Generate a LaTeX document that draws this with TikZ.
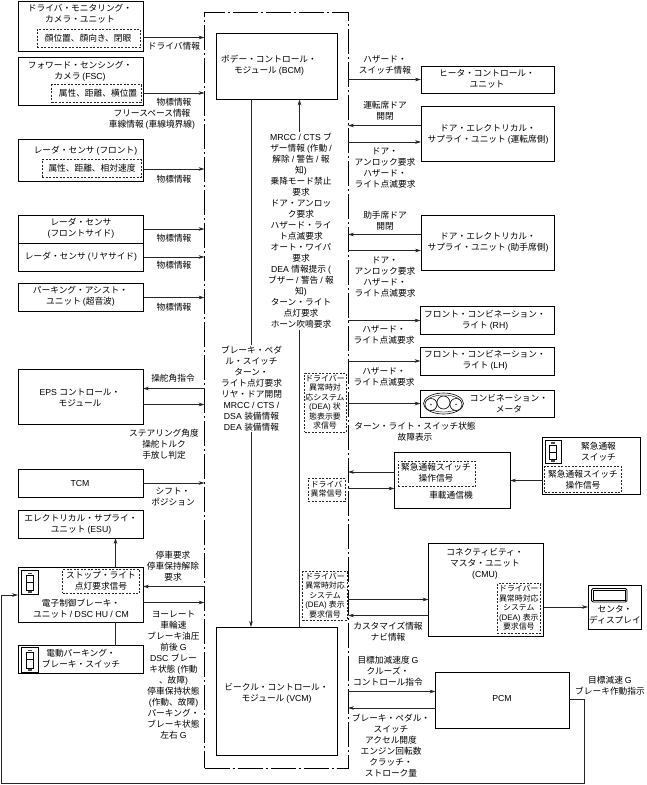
\documentclass[tikz,border=0pt]{standalone}
\usepackage{fontspec}
\usetikzlibrary{arrows.meta,calc}
\setmainfont{Liberation Sans}
\newfontfamily\cjkf{Noto Sans CJK JP}
\newfontfamily\latf{Liberation Sans}
% switch automatically between CJK and Latin glyphs
\newXeTeXintercharclass\mycjkclass
\newcount\mychr
\mychr="3000 \loop \XeTeXcharclass\mychr=\mycjkclass \advance\mychr 1 \ifnum\mychr<"3100 \repeat
\mychr="4E00 \loop \XeTeXcharclass\mychr=\mycjkclass \advance\mychr 1 \ifnum\mychr<"A000 \repeat
\XeTeXinterchartoks 0 \mycjkclass={\cjkf}
\XeTeXinterchartoks 4095 \mycjkclass={\cjkf}
\XeTeXinterchartoks \mycjkclass 0={\latf}
\XeTeXinterchartoks 4095 0={\latf}
\XeTeXinterchartokenstate=1
\newcount\tcnt
\tikzset{
  boxst/.style={draw=black,line width=0.9pt,fill=white,inner sep=0pt,outer sep=0pt},
  dashbox/.style={draw=black!85,line width=0.6pt,dash pattern=on 2pt off 1.5pt,fill=white,inner sep=0pt,outer sep=0pt},
  domainbox/.style={draw=black,line width=0.9pt,dash pattern=on 25pt off 3pt on 2pt off 3pt,inner sep=0pt,outer sep=0pt},
  flow/.style={draw=black!85,line width=0.65pt,-{Stealth[length=6pt,width=3.6pt]}},
  plain/.style={draw=black!85,line width=0.65pt},
  txt/.style={inner sep=0pt,outer sep=0pt,align=center,font=\fontsize{8.7}{11}\selectfont},
  small/.style={font=\fontsize{7.9}{9.5}\selectfont},
  knock/.style={fill=white,inner sep=1pt},
  icon/.style={draw=black,line width=0.6pt}
}
% \bx[style]{name}{x1}{y1}{x2}{y2}
\newcommand{\bx}[6][boxst]{%
  \pgfmathsetmacro\bxw{#5-#3}\pgfmathsetmacro\bxh{#6-#4}%
  \pgfmathsetmacro\bxc{(#3+#5)/2}\pgfmathsetmacro\bxd{(#4+#6)/2}%
  \node[#1,minimum width=\bxw pt,minimum height=\bxh pt] (#2) at (\bxc,\bxd) {};}
\newcommand{\tx}[4][]{%
  \global\advance\tcnt 1
  \node[txt,#1] (t\the\tcnt) at (#2,#3) {#4};}
% switch glyph
\newcommand{\swicon}[4]{%
  \draw[icon,line width=0.9pt] (#1,#2) rectangle (#3,#4);
  \draw[icon,line width=0.5pt] ($(#1,#2)+(4.5,5)$) rectangle ($(#3,#4)+(-4.5,-4)$);
  \draw[icon,line width=0.5pt] ($(#1,#2)+(4.5,12)$) -- ($(#3,#2)+(-4.5,12)$);
  \fill[black!70] ($(#1,#2)+(6,2)$) rectangle ($(#3,#2)+(-6,3.5)$);
  \fill[black!70] ($(#1,#4)+(6,-3)$) rectangle ($(#3,#4)+(-6,-1.5)$);}
\begin{document}
\begin{tikzpicture}[x=1pt,y=-1pt]
\useasboundingbox (0,0) rectangle (646,785);
\fill[white] (0,0) rectangle (646,785);
% domain frame
\bx[domainbox]{dom}{204.5}{12}{348}{768}
% boxes
\bx{bcm}{216}{33}{337}{99.5}
\bx{vcm}{216}{627}{337}{755}
\bx{drv}{18}{1.5}{143}{51}
\bx{fsc}{18}{57.5}{143}{105.5}
\bx{rfr}{18}{139}{143}{181}
\bx{rfs}{18.5}{215.5}{143.5}{243.5}
\bx{rrs}{18.5}{243.5}{143.5}{271}
\bx{pas}{18.5}{283.5}{143.5}{311.5}
\bx{eps}{18}{369}{143}{424.5}
\bx{tcm}{18}{469.5}{143}{497.5}
\bx{esu}{18}{510.5}{143}{538}
\bx{ebu}{18}{567}{143}{622}
\bx{epb}{18}{645.5}{143}{673.5}
\bx{htr}{421}{66}{554.5}{93.5}
\bx{ddr}{421}{106.5}{554.5}{161.5}
\bx{dpa}{421}{215}{554.5}{270}
\bx{frh}{420.5}{306.5}{554.5}{334}
\bx{flh}{420.5}{347.5}{554.5}{375}
\bx{mtr}{420.5}{390}{554.5}{417}
\bx{tel}{394.5}{452.5}{510}{508}
\bx{ems}{542.5}{437}{640}{494}
\bx{cmu}{428.5}{543}{543.5}{636}
\bx{dsp}{588}{585}{641}{629}
\bx{pcm}{435.5}{672}{569}{728}
% connectors to the frame
\draw[flow] (drv.east |- 0,37.5) -- (dom.west |- 0,37.5);
\draw[flow] (fsc.east |- 0,93) -- (dom.west |- 0,93);
\draw[flow] (rfr.east |- 0,169) -- (dom.west |- 0,169);
\draw[flow] (rfs.east |- 0,229) -- (dom.west |- 0,229);
\draw[flow] (rrs.east |- 0,257) -- (dom.west |- 0,257);
\draw[flow] (pas.east |- 0,297.5) -- (dom.west |- 0,297.5);
\draw[flow] (dom.west |- 0,388.5) -- (eps.east |- 0,388.5);
\draw[flow] (eps.east |- 0,404.5) -- (dom.west |- 0,404.5);
\draw[flow] (tcm.east |- 0,483) -- (dom.west |- 0,483);
\draw[flow] (dom.west |- 0,586.5) -- (ebu.east |- 0,586.5);
\draw[flow] (ebu.east |- 0,602.5) -- (dom.west |- 0,602.5);
\draw[flow] (ebu.north -| 115.5,0) -- (esu.south -| 115.5,0);
\draw[plain] (ebu.south -| 115.5,0) -- (epb.north -| 115.5,0);
\draw[flow] (dom.east |- 0,79.5) -- (htr.west |- 0,79.5);
\draw[flow] (ddr.west |- 0,125.5) -- (dom.east |- 0,125.5);
\draw[flow] (dom.east |- 0,142) -- (ddr.west |- 0,142);
\draw[flow] (dpa.west |- 0,234.5) -- (dom.east |- 0,234.5);
\draw[flow] (dom.east |- 0,250.5) -- (dpa.west |- 0,250.5);
\draw[flow] (dom.east |- 0,320.5) -- (frh.west |- 0,320.5);
\draw[flow] (dom.east |- 0,361) -- (flh.west |- 0,361);
\draw[flow] (dom.east |- 0,403.5) -- (mtr.west |- 0,403.5);
\draw[flow] (tel.west |- 0,472) -- (dom.east |- 0,472);
\draw[flow] (dom.east |- 0,488.5) -- (tel.west |- 0,488.5);
\draw[flow] (ems.west |- 0,480.5) -- (tel.east |- 0,480.5);
\draw[flow] (dom.east |- 0,599.5) -- (cmu.west |- 0,599.5);
\draw[flow] (cmu.west |- 0,615.5) -- (dom.east |- 0,615.5);
\draw[flow] (cmu.east |- 0,607) -- (dsp.west |- 0,607);
\draw[flow] (dom.east |- 0,691.5) -- (pcm.west |- 0,691.5);
\draw[flow] (pcm.west |- 0,708) -- (dom.east |- 0,708);
\draw[flow] (pcm.east |- 0,699.5) -| (584.5,783.5) -| (1.5,595) -- (ebu.west |- 0,595);
% BCM <-> VCM
\draw[flow] (bcm.south -| 251,0) -- (vcm.north -| 251,0);
\draw[flow] (vcm.north -| 299.5,0) -- (bcm.south -| 299.5,0);
% inner dashed signal boxes
\bx[dashbox]{dd1}{37}{29}{140}{47.5}
\bx[dashbox]{dd2}{51.5}{84.5}{141}{102}
\bx[dashbox]{dd3}{42}{159.5}{141}{177}
\bx[dashbox]{dd4}{62.5}{569.5}{139.5}{593}
\bx[dashbox]{dd5}{304.5}{373}{346}{432}
\bx[dashbox]{dd6}{308}{478.5}{345}{501}
\bx[dashbox]{dd7}{398}{461}{475}{486.5}
\bx[dashbox]{dd8}{544.5}{466.5}{621.5}{492}
\bx[dashbox]{dd9}{497}{583.5}{540.5}{633}
\bx[dashbox]{dd10}{302.5}{571.5}{347}{620}
% icons
\swicon{21.5}{570.5}{38}{594}
\swicon{21.5}{647.5}{38}{672}
\swicon{545}{440}{561}{463}
\draw[icon,line width=0.9pt,rounded corners=1.5pt] (591.5,588.5) rectangle (627,602);
\draw[icon] (593.5,590) rectangle (625,600.5);
\draw[icon] (443.5,403.5) ellipse (20 and 10.5);
\draw[icon,line width=0.4pt] (443.5,403.5) ellipse (18 and 8.5);
\draw[icon,fill=white] (431,404.5) circle (6);
\draw[icon,fill=white] (443.5,402.5) circle (6.5);
\draw[icon,fill=white] (456,404.5) circle (6);
\fill[black!70] (431,404.5) circle (0.8) (456,404.5) circle (0.8);
% texts in boxes
\tx{269}{65.5}{ボデー・コントロール・\\モジュール (BCM)}
\tx{276.5}{693}{ビークル・コントロール・\\モジュール (VCM)}
\tx{80}{13.5}{ドライバ・モニタリング・\\カメラ・ユニット}
\tx{88}{38}{顔位置、顔向き、閉眼}
\tx{80}{71.5}{フォワード・センシング・\\カメラ (FSC)}
\tx{98}{93}{属性、距離、横位置}
\tx{85.5}{150.5}{レーダ・センサ (フロント)}
\tx{92}{168}{属性、距離、相対速度}
\tx{81}{228.5}{レーダ・センサ\\(フロントサイド)}
\tx{81}{256.5}{レーダ・センサ (リヤサイド)}
\tx{80.5}{296.5}{パーキング・アシスト・\\ユニット (超音波)}
\tx{80}{398}{EPS コントロール・\\モジュール}
\tx{80}{483.5}{TCM}
\tx{81}{524}{エレクトリカル・サプライ・\\ユニット (ESU)}
\tx{101}{581}{ストップ・ライト\\点灯要求信号}
\tx{81}{608.5}{電子制御ブレーキ・\\ユニット / DSC HU / CM}
\tx{81}{658.5}{電動パーキング・\\ブレーキ・スイッチ}
\tx{487}{79}{ヒータ・コントロール・\\ユニット}
\tx{488}{134}{ドア・エレクトリカル・\\サプライ・ユニット (運転席側)}
\tx{488}{242.5}{ドア・エレクトリカル・\\サプライ・ユニット (助手席側)}
\tx{485}{320.5}{フロント・コンビネーション・\\ライト (RH)}
\tx{485}{360.5}{フロント・コンビネーション・\\ライト (LH)}
\tx{509}{404}{コンビネーション・\\メータ}
\tx{436}{473}{緊急通報スイッチ\\操作信号}
\tx{451}{495}{車載通信機}
\tx{598.5}{452}{緊急通報\\スイッチ}
\tx{583}{479.5}{緊急通報スイッチ\\操作信号}
\tx{485}{563.5}{コネクティビティ・\\マスタ・ユニット\\(CMU)}
\tx{502}{698}{PCM}
\tx{615}{615}{センタ・\\ディスプレイ}
\tx[small]{325}{402}{ドライバー\\異常時対\\応システム\\(DEA) 状\\態表示要\\求信号}
\tx[small]{326.5}{489}{ドライバ\\異常信号}
\tx[small]{518.8}{607.7}{ドライバー\\異常時対応\\システム\\(DEA) 表示\\要求信号}
\tx[small]{325}{595.5}{ドライバー\\異常時対応\\システム\\(DEA) 表示\\要求信号}
% flow labels
\tx{174}{46}{ドライバ情報}
\tx{174}{102}{物標情報}
\tx{152}{119.5}{フリースペース情報\\車線情報 (車線境界線)}
\tx{174}{179}{物標情報}
\tx{174}{238}{物標情報}
\tx{174}{265}{物標情報}
\tx{174}{307}{物標情報}
\tx{173}{378.5}{操舵角指令}
\tx{164}{444}{ステアリング角度\\操舵トルク\\手放し判定}
\tx{173}{497}{シフト・\\ポジション}
\tx{173}{566.5}{停車要求\\停車保持解除\\要求}
\tx{173.5}{674.5}{ヨーレート\\車輪速\\ブレーキ油圧\\前後 G\\DSC ブレー\\キ状態 (作動\\、故障)\\停車保持状態\\(作動、故障)\\パーキング・\\ブレーキ状態\\左右 G}
\tx[knock]{251.5}{388.5}{ブレーキ・ペダ\\ル・スイッチ\\ターン・\\ライト点灯要求\\リヤ・ドア開閉\\MRCC / CTS /\\DSA 装備情報\\DEA 装備情報}
\tx[knock]{301}{231}{MRCC / CTS ブ\\ザー情報 (作動 /\\解除 / 警告 / 報\\知)\\乗降モード禁止\\要求\\ドア・アンロッ\\ク要求\\ハザード・ライ\\ト点滅要求\\オート・ワイパ\\要求\\DEA 情報提示 (\\ブザー / 警告 / 報\\知)\\ターン・ライト\\点灯要求\\ホーン吹鳴要求}
\tx{385}{64.5}{ハザード・\\スイッチ情報}
\tx{385}{110.5}{運転席ドア\\開閉}
\tx{385}{168}{ドア・\\アンロック要求\\ハザード・\\ライト点滅要求}
\tx{385}{220.5}{助手席ドア\\開閉}
\tx{385}{277.5}{ドア・\\アンロック要求\\ハザード・\\ライト点滅要求}
\tx{384}{335}{ハザード・\\ライト点滅要求}
\tx{384}{376.5}{ハザード・\\ライト点滅要求}
\tx{415}{432}{ターン・ライト・スイッチ状態\\故障表示}
\tx{388}{631.5}{カスタマイズ情報\\ナビ情報}
\tx{388}{671.5}{目標加減速度 G\\クルーズ・\\コントロール指令}
\tx{391}{745.5}{ブレーキ・ペダル・\\スイッチ\\アクセル開度\\エンジン回転数\\クラッチ・\\ストローク量}
\tx{610}{685.5}{目標減速 G\\ブレーキ作動指示}
\end{tikzpicture}
\end{document}
